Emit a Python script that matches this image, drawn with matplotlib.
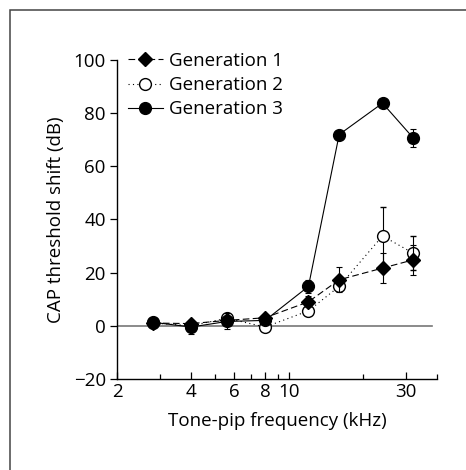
import matplotlib
matplotlib.use("Agg")
import matplotlib.pyplot as plt
from matplotlib.patches import Rectangle
from matplotlib.ticker import FixedLocator, NullFormatter

# ── Data ──────────────────────────────────────────────────────
freq = [2.8, 4, 5.6, 8, 12, 16, 24, 32]

gen1 = [1.0, 0.8, 2.0, 3.0, 9.0, 17.3, 21.7, 24.8]
gen1_err = [0.8, 1.0, 1.5, 1.0, 2.0, 4.7, 5.7, 5.6]

gen2 = [1.0, 0.0, 2.8, -0.5, 5.6, 14.8, 33.8, 27.3]
gen2_err = [0.8, 1.0, 1.5, 1.0, 1.0, 1.5, 11.0, 6.3]

gen3 = [1.3, -0.5, 1.6, 2.0, 14.8, 72.0, 83.8, 70.7]
gen3_err = [0.8, 2.5, 3.0, 1.0, 2.5, 1.0, 1.0, 3.3]

x_ticks = [2, 4, 6, 8, 10, 30]
x_minor = [3, 5, 7, 9, 20, 40]
y_ticks = [-20, 0, 20, 40, 60, 80, 100]

plt.rcParams["font.family"] = ["Open Sans", "DejaVu Sans"]

fig = plt.figure(figsize=(4.66, 4.70), dpi=100)
ax = fig.add_axes([0.251, 0.194, 0.687, 0.678])

# frame around the figure panel (right/bottom edges run off the image)
fig.patches.append(Rectangle((10 / 466, -0.05), 1.1, 1.05 - 10 / 470,
                             transform=fig.transFigure, fill=False,
                             edgecolor="#444444", linewidth=1.1))

ax.plot([2, 38], [0, 0], color="#777777", linewidth=1.2, zorder=1)

common = dict(color="black", linewidth=0.8, elinewidth=0.8,
              capsize=2.5, capthick=0.8, markersize=8.5)

e2 = ax.errorbar(freq, gen2, yerr=gen2_err, fmt="o", linestyle=(0, (1, 3)),
                 markerfacecolor="white", markeredgecolor="black",
                 markeredgewidth=1.0, zorder=3, **common)
e3 = ax.errorbar(freq, gen3, yerr=gen3_err, fmt="o", linestyle="-",
                 markerfacecolor="black", zorder=4, **common)
e1 = ax.errorbar(freq, gen1, yerr=gen1_err, fmt="D", linestyle=(0, (6, 3)),
                 markerfacecolor="black", zorder=5,
                 **{**common, "markersize": 7.5})

ax.set_xscale("log")
ax.set_xlim(2, 40)
ax.set_ylim(-20, 100)
ax.xaxis.set_major_locator(FixedLocator(x_ticks))
ax.xaxis.set_minor_locator(FixedLocator(x_minor))
ax.xaxis.set_minor_formatter(NullFormatter())
ax.set_xticklabels([str(t) for t in x_ticks])
ax.set_yticks(y_ticks)
ax.set_yticklabels(["\u221220" if t < 0 else str(t) for t in y_ticks])

ax.spines["top"].set_visible(False)
ax.spines["right"].set_visible(False)
for s in ("left", "bottom"):
    ax.spines[s].set_linewidth(1.0)

ax.tick_params(axis="x", which="major", direction="in", length=5, width=0.9,
               labelsize=13.5, pad=3)
ax.tick_params(axis="x", which="minor", direction="in", length=3.5, width=0.9)
ax.tick_params(axis="y", direction="out", length=5, width=0.9,
               labelsize=13.5, pad=3)

ax.set_xlabel("Tone-pip frequency (kHz)", fontsize=13.5, labelpad=8)
ax.set_ylabel("CAP threshold shift (dB)", fontsize=13.5, labelpad=6)

ax.legend([e1[0], e2[0], e3[0]], ["Generation 1", "Generation 2", "Generation 3"],
          loc="upper left", bbox_to_anchor=(0.01, 1.05), frameon=False,
          fontsize=13.5, handlelength=1.9, handletextpad=0.3,
          labelspacing=0.34, borderaxespad=0.2, borderpad=0.2)

plt.savefig("out.png", dpi=100)
